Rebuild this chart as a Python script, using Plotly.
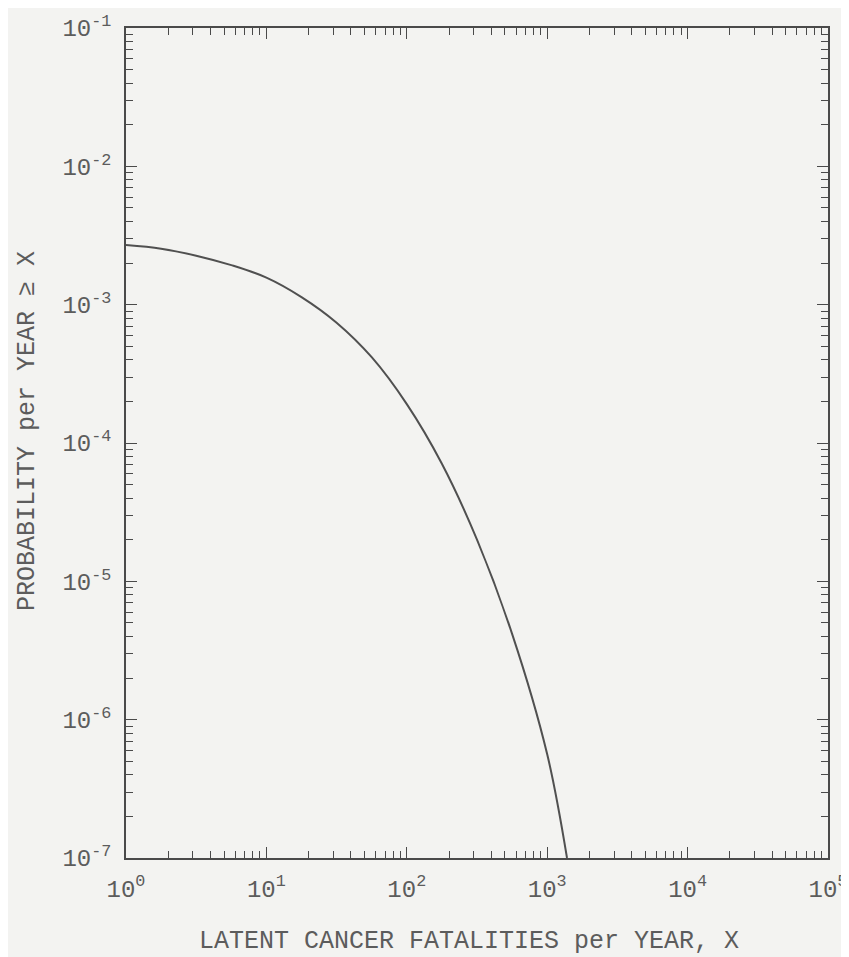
import plotly.graph_objects as go

fatalities = [1.0, 1.778, 3.162, 5.623, 10, 17.78, 31.62, 56.23, 100, 177.8, 316.2,
              562.3, 1000, 1384]
probability = [2.70e-3, 2.54e-3, 2.26e-3, 1.93e-3, 1.57e-3, 1.135e-3, 7.41e-4, 4.17e-4,
               1.91e-4, 7.08e-5, 2.0e-5, 4.17e-6, 5.62e-7, 1.0e-7]

x_tickvals = [1, 10, 100, 1000, 10000, 100000]
x_ticktext = ["10<sup>0</sup>", "10<sup>1</sup>", "10<sup>2</sup>", "10<sup>3</sup>",
              "10<sup>4</sup>", "10<sup>5</sup>"]
y_tickvals = [1e-7, 1e-6, 1e-5, 1e-4, 1e-3, 1e-2, 1e-1]
y_ticktext = ["10<sup>-7</sup>", "10<sup>-6</sup>", "10<sup>-5</sup>", "10<sup>-4</sup>",
              "10<sup>-3</sup>", "10<sup>-2</sup>", "10<sup>-1</sup>"]
minor_mult = [2, 3, 4, 5, 6, 7, 8, 9]

x_title = "LATENT CANCER FATALITIES per YEAR, X"
y_title = "PROBABILITY per YEAR \u2265 X"

x_minor = [m * d for d in x_tickvals[:-1] for m in minor_mult]
y_minor = [m * d for d in y_tickvals[:-1] for m in minor_mult]

ink = "#4a4a4a"
txt = "#5c5c5c"
bg = "#f3f3f1"
font_family = "Liberation Mono"

fig = go.Figure()
fig.add_trace(go.Scatter(
    x=fatalities, y=probability, mode="lines",
    line=dict(color="#505050", width=2, shape="spline", smoothing=1.0),
    showlegend=False, hoverinfo="skip",
))

def axis_common(minor_vals):
    return dict(
        type="log",
        showgrid=False,
        zeroline=False,
        showline=True,
        linecolor=ink,
        linewidth=1.5,
        mirror="allticks",
        ticks="inside",
        ticklen=11,
        tickwidth=1.4,
        tickcolor=ink,
        minor=dict(tickvals=minor_vals, ticks="inside", ticklen=7, tickwidth=1.2,
                   tickcolor=ink, showgrid=False),
        tickfont=dict(family=font_family, size=24, color=txt),
    )

fig.update_xaxes(
    **axis_common(x_minor),
    range=[0, 5],
    tickvals=x_tickvals, ticktext=x_ticktext,
    ticklabelstandoff=8,
)
fig.update_yaxes(
    **axis_common(y_minor),
    range=[-7, -1],
    tickvals=y_tickvals, ticktext=y_ticktext,
    ticklabelstandoff=8,
)

fig.add_annotation(
    text=x_title, xref="paper", yref="paper", x=0.4886, y=-0.1,
    xanchor="center", yanchor="middle", showarrow=False,
    font=dict(family=font_family, size=25, color=txt),
)
fig.add_annotation(
    text=y_title, xref="paper", yref="paper", x=-0.1396, y=0.5145,
    xanchor="center", yanchor="middle", showarrow=False, textangle=-90,
    font=dict(family=font_family, size=25, color=txt),
)

fig.update_layout(
    width=841, height=949,
    margin=dict(l=118, r=21, t=20, b=99, autoexpand=False),
    paper_bgcolor=bg,
    plot_bgcolor=bg,
)

fig.write_html("out.html")
